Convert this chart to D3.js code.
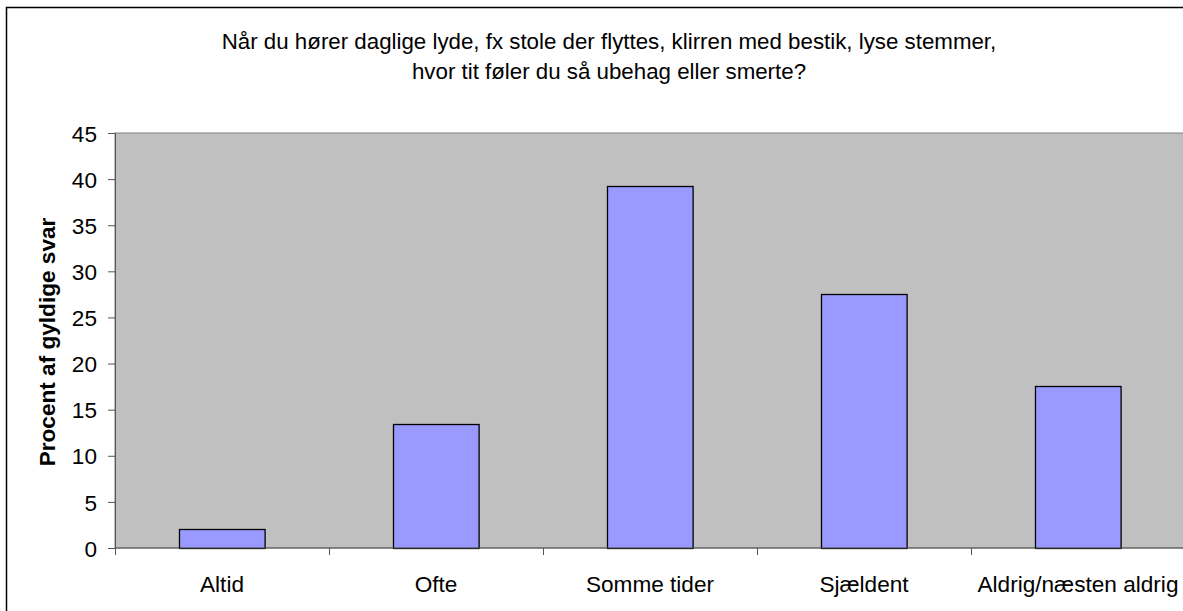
<!DOCTYPE html>
<html>
<head>
<meta charset="utf-8">
<script src="https://cdn.jsdelivr.net/npm/d3@7"></script>
<style>
  body { margin: 0; background: #fff; }
  text { font-family: "Liberation Sans", Arial, sans-serif; fill: #000; }
</style>
</head>
<body>
<div id="chart"></div>
<script>
// data
var categories = ['Altid', 'Ofte', 'Somme tider', 'Sjældent', 'Aldrig/næsten aldrig']
var values = [2.1, 13.4, 39.2, 27.5, 17.6]
var yTicks = [0, 5, 10, 15, 20, 25, 30, 35, 40, 45]
var titleLines = ['Når du hører daglige lyde, fx stole der flyttes, klirren med bestik, lyse stemmer,',
                  'hvor tit føler du så ubehag eller smerte?']
var yTitle = 'Procent af gyldige svar'

const svgWidth = 1183
const svgHeight = 611
const plot = { left: 115, right: 1185, top: 133, bottom: 548 }
const fontSize = '22.6px'

var svg = d3.select('#chart').append('svg')
    .attr('width', svgWidth)
    .attr('height', svgHeight)

// outer chart border
svg.append('rect')
    .attr('x', 6.5).attr('y', 7.5)
    .attr('width', svgWidth).attr('height', svgHeight)
    .attr('fill', 'none')
    .attr('stroke', '#000')
    .attr('stroke-width', 1.5)

const x = d3.scaleBand().domain(categories).range([plot.left, plot.right]).paddingInner(0.6).paddingOuter(0.3)
const xb = d3.scaleBand().domain(categories).range([plot.left, plot.right])
const y = d3.scaleLinear().domain([0, 45]).range([plot.bottom, plot.top])

// plot area
svg.append('rect')
    .attr('x', plot.left).attr('y', plot.top)
    .attr('width', plot.right - plot.left).attr('height', plot.bottom - plot.top)
    .attr('fill', '#c0c0c0')
    .attr('stroke', '#808080')

// bars
svg.append('g').selectAll('rect')
    .data(values)
    .enter().append('rect')
    .attr('x', (d, i) => Math.round(x(categories[i])) + 0.5)
    .attr('y', d => Math.round(y(d)) + 0.5)
    .attr('width', x.bandwidth())
    .attr('height', d => Math.round(y(0)) - Math.round(y(d)))
    .attr('fill', '#9999ff')
    .attr('stroke', '#000')
    .attr('stroke-width', 1.3)

// y axis
const yAxis = d3.axisLeft(y).tickValues(yTicks).tickSize(7).tickPadding(11)
const yAxisGroup = svg.append('g')
    .attr('transform', `translate(${plot.left}, 0)`)
    .call(yAxis)
yAxisGroup.select('.domain').attr('stroke', '#555')
yAxisGroup.selectAll('.tick line').attr('stroke', '#555')
yAxisGroup.selectAll('text').style('font-size', fontSize).attr('dy', '0.36em')

// x axis, ticks on the category boundaries
const xAxisGroup = svg.append('g')
    .attr('transform', `translate(0, ${plot.bottom})`)
xAxisGroup.append('line')
    .attr('x1', plot.left).attr('x2', plot.right)
    .attr('stroke', '#555')
xAxisGroup.selectAll('.bound')
    .data(categories)
    .enter().append('line')
    .attr('class', 'bound')
    .attr('x1', d => Math.round(xb(d)) + 0.5)
    .attr('x2', d => Math.round(xb(d)) + 0.5)
    .attr('y1', 0).attr('y2', 7)
    .attr('stroke', '#555')
xAxisGroup.selectAll('.lbl')
    .data(categories)
    .enter().append('text')
    .attr('class', 'lbl')
    .attr('x', d => xb(d) + xb.bandwidth() / 2)
    .attr('y', 44)
    .attr('text-anchor', 'middle')
    .style('font-size', fontSize)
    .text(d => d)

// title
svg.append('g').selectAll('text')
    .data(titleLines)
    .enter().append('text')
    .attr('x', 609)
    .attr('y', (d, i) => 49 + i * 30)
    .attr('text-anchor', 'middle')
    .style('font-size', '22.3px')
    .text(d => d)

// y axis title
svg.append('text')
    .attr('transform', 'rotate(-90)')
    .attr('x', -342)
    .attr('y', 55)
    .attr('text-anchor', 'middle')
    .style('font-size', fontSize)
    .style('font-weight', 'bold')
    .text(yTitle)
</script>
</body>
</html>
